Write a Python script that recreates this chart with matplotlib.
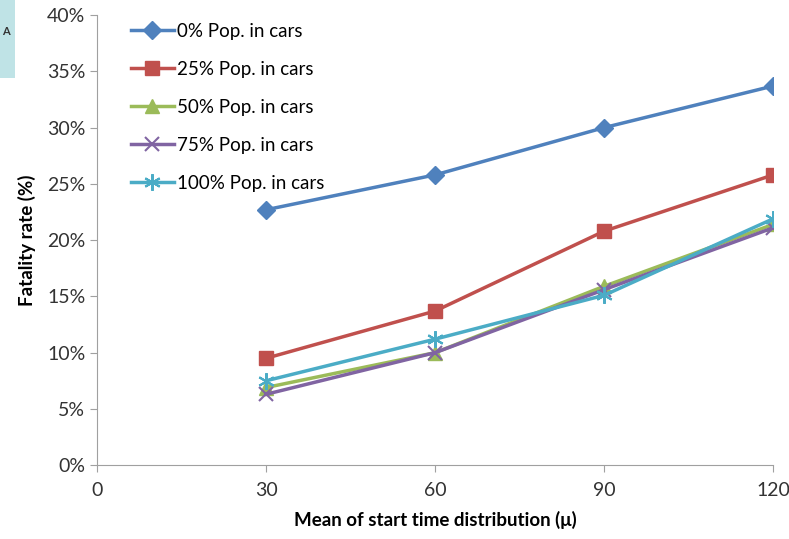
import numpy as np
import matplotlib.pyplot as plt
import matplotlib.patches as mpatches

plt.rcParams['font.family'] = ['Lato', 'DejaVu Sans']

x = [30, 60, 90, 120]
pop0 = [22.7, 25.8, 30.0, 33.7]
pop25 = [9.5, 13.7, 20.8, 25.8]
pop50 = [6.9, 10.0, 15.9, 21.4]
pop75 = [6.3, 10.0, 15.6, 21.1]
pop100 = [7.5, 11.2, 15.1, 21.9]
labels = ["0% Pop. in cars", "25% Pop. in cars", "50% Pop. in cars",
          "75% Pop. in cars", "100% Pop. in cars"]

fig = plt.figure(figsize=(7.89, 5.39), dpi=100)
ax = fig.add_axes([0.123, 0.137, 0.857, 0.835])

# fragment of a neighbouring image at the top left
fig.patches.append(mpatches.Rectangle((0, 0.855), 0.019, 0.145, transform=fig.transFigure,
                                      facecolor='#bfe3e6', edgecolor='none'))
fig.text(0.002, 0.935, "A", fontsize=8, fontweight='bold', color='#333333')

styles = [
    (pop0, '#4F81BD', 'D', 9),
    (pop25, '#C0504D', 's', 10),
    (pop50, '#9BBB59', '^', 10),
    (pop75, '#8064A2', 'x', 10),
    (pop100, '#4BACC6', (6, 2, 0), 12),
]
for (vals, c, m, ms), lab in zip(styles, labels):
    ax.plot(x, vals, color=c, marker=m, markersize=ms, linewidth=2.5,
            markeredgewidth=1.5 if m in ('x', (6, 2, 0)) else 1, markeredgecolor=c, label=lab)

ax.set_xlim(0, 120)
ax.set_ylim(0, 40)
ax.set_xticks([0, 30, 60, 90, 120])
ax.set_yticks(np.arange(0, 41, 5))
ax.set_yticklabels([f"{v}%" for v in range(0, 41, 5)])
for s in ['top', 'right']:
    ax.spines[s].set_visible(False)
for s in ['left', 'bottom']:
    ax.spines[s].set_color('#a0a0a0')
ax.tick_params(colors='#a0a0a0', labelcolor='#333333', labelsize=14, length=5)
ax.tick_params(axis='x', pad=7)

ax.set_xlabel("Mean of start time distribution (μ)", fontsize=13.5, fontweight='bold', labelpad=9)
ax.set_ylabel("Fatality rate (%)", fontsize=13.5, fontweight='bold', labelpad=8)

ax.legend(loc='upper left', bbox_to_anchor=(0.025, 1.02), frameon=False, fontsize=13.5,
          handlelength=2.3, handletextpad=0.15, labelspacing=1.12)

fig.savefig("out.png", dpi=100)
